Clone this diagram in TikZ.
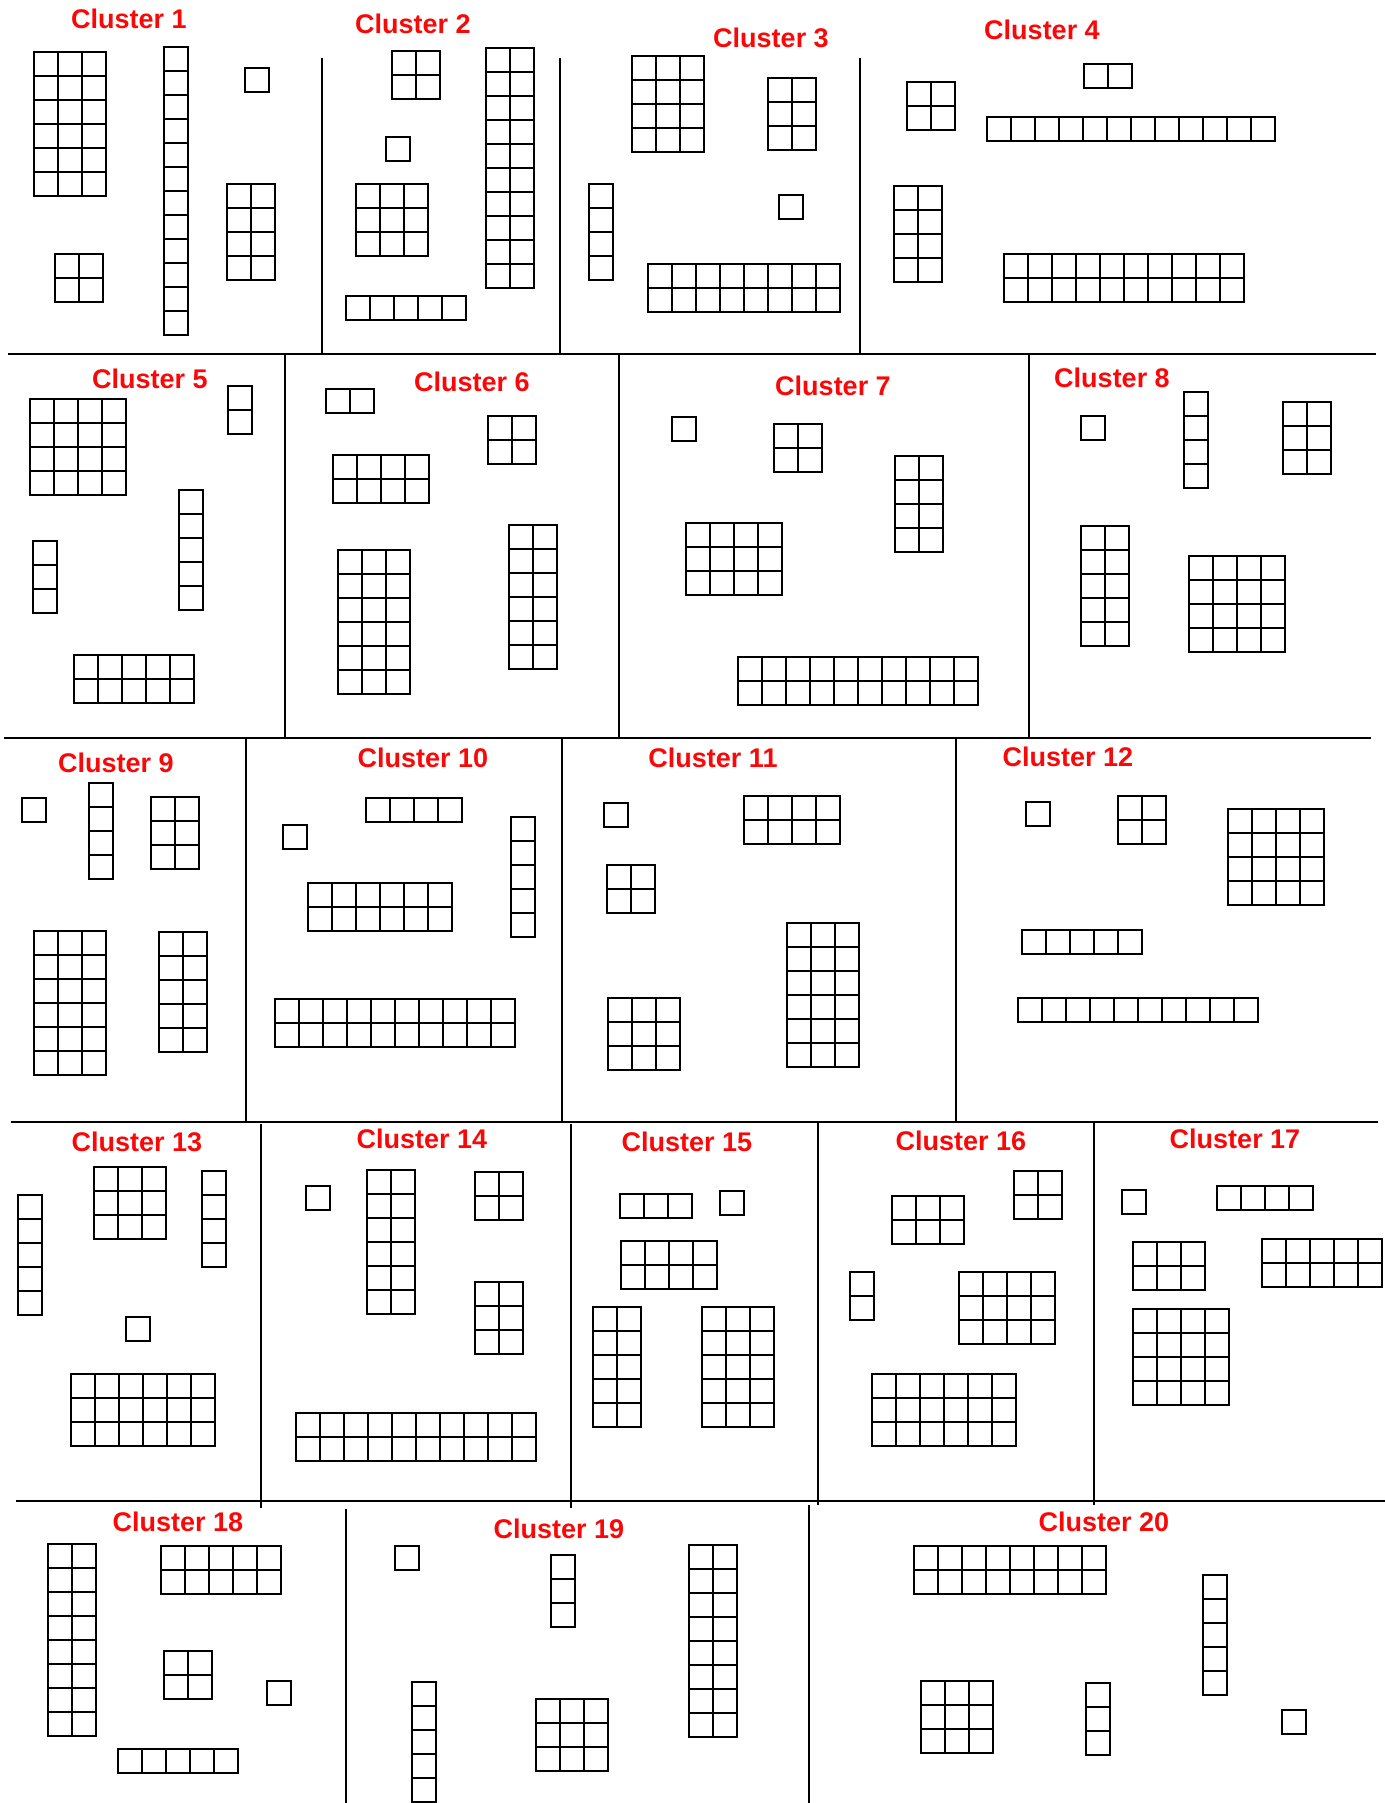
\documentclass[tikz,border=0pt]{standalone}
\usepackage{fontspec}
\setmainfont{Liberation Sans}
\usepackage{tikz}
\usepackage{xcolor}
\definecolor{clred}{RGB}{250,8,8}
\tikzset{
  clabel/.style={font=\bfseries\fontsize{13.5}{16}\selectfont, text=clred, inner sep=0pt},
  clblock/.style={draw=black, line width=1pt, line cap=rect},
  clsep/.style={draw=black, line width=0.8pt},
}
% a block of unit squares: left, top, columns, rows (in px of the sheet)
\newcommand{\unitblock}[4]{%
  \foreach \i in {0,...,#3} \draw[clblock] (#1+\i*24,#2) -- ++(0,#4*24);
  \foreach \j in {0,...,#4} \draw[clblock] (#1,#2+\j*24) -- ++(#3*24,0);
}

\begin{document}
\begin{tikzpicture}[x=0.5pt, y=-0.5pt]
  \useasboundingbox (0,0) rectangle (1385,1803);

  % separating lines
  \draw[clsep] (8,354) -- (1376,354);
  \draw[clsep] (4,738) -- (1371,738);
  \draw[clsep] (11,1122) -- (1378,1122);
  \draw[clsep] (16,1501) -- (1385,1501);
  \foreach \x in {322,560,860} \draw[clsep] (\x,58) -- (\x,354);
  \foreach \x in {285,619,1029} \draw[clsep] (\x,354) -- (\x,738);
  \foreach \x in {246,562,956} \draw[clsep] (\x,738) -- (\x,1122);
  \foreach \x in {261,571} \draw[clsep] (\x,1124) -- (\x,1508);
  \foreach \x in {818,1094} \draw[clsep] (\x,1122) -- (\x,1505);
  \draw[clsep] (346,1509) -- (346,1803);
  \draw[clsep] (809,1505) -- (809,1803);

  % labels
  \node[clabel] (c1) at (129,19) {Cluster 1};
  \node[clabel] (c2) at (413,24) {Cluster 2};
  \node[clabel] (c3) at (771,38) {Cluster 3};
  \node[clabel] (c4) at (1042,30) {Cluster 4};
  \node[clabel] (c5) at (150,379) {Cluster 5};
  \node[clabel] (c6) at (472,382) {Cluster 6};
  \node[clabel] (c7) at (833,386) {Cluster 7};
  \node[clabel] (c8) at (1112,378) {Cluster 8};
  \node[clabel] (c9) at (116,763) {Cluster 9};
  \node[clabel] (c10) at (423,758) {Cluster 10};
  \node[clabel] (c11) at (713,758) {Cluster 11};
  \node[clabel] (c12) at (1068,757) {Cluster 12};
  \node[clabel] (c13) at (137,1142) {Cluster 13};
  \node[clabel] (c14) at (422,1139) {Cluster 14};
  \node[clabel] (c15) at (687,1142) {Cluster 15};
  \node[clabel] (c16) at (961,1141) {Cluster 16};
  \node[clabel] (c17) at (1235,1139) {Cluster 17};
  \node[clabel] (c18) at (178,1522) {Cluster 18};
  \node[clabel] (c19) at (559,1529) {Cluster 19};
  \node[clabel] (c20) at (1104,1522) {Cluster 20};

  % cluster 1
  \unitblock{34}{52}{3}{6}
  \unitblock{164}{47}{1}{12}
  \unitblock{245}{68}{1}{1}
  \unitblock{227}{184}{2}{4}
  \unitblock{55}{254}{2}{2}
  % cluster 2
  \unitblock{392}{51}{2}{2}
  \unitblock{386}{137}{1}{1}
  \unitblock{356}{184}{3}{3}
  \unitblock{486}{48}{2}{10}
  \unitblock{346}{296}{5}{1}
  % cluster 3
  \unitblock{632}{56}{3}{4}
  \unitblock{768}{78}{2}{3}
  \unitblock{779}{195}{1}{1}
  \unitblock{589}{184}{1}{4}
  \unitblock{648}{264}{8}{2}
  % cluster 4
  \unitblock{1084}{64}{2}{1}
  \unitblock{907}{82}{2}{2}
  \unitblock{987}{117}{12}{1}
  \unitblock{894}{186}{2}{4}
  \unitblock{1004}{254}{10}{2}
  % cluster 5
  \unitblock{30}{399}{4}{4}
  \unitblock{228}{386}{1}{2}
  \unitblock{179}{490}{1}{5}
  \unitblock{33}{541}{1}{3}
  \unitblock{74}{655}{5}{2}
  % cluster 6
  \unitblock{326}{389}{2}{1}
  \unitblock{488}{416}{2}{2}
  \unitblock{333}{455}{4}{2}
  \unitblock{338}{550}{3}{6}
  \unitblock{509}{525}{2}{6}
  % cluster 7
  \unitblock{672}{417}{1}{1}
  \unitblock{774}{424}{2}{2}
  \unitblock{895}{456}{2}{4}
  \unitblock{686}{523}{4}{3}
  \unitblock{738}{657}{10}{2}
  % cluster 8
  \unitblock{1081}{416}{1}{1}
  \unitblock{1184}{392}{1}{4}
  \unitblock{1283}{402}{2}{3}
  \unitblock{1081}{526}{2}{5}
  \unitblock{1189}{556}{4}{4}
  % cluster 9
  \unitblock{22}{798}{1}{1}
  \unitblock{89}{783}{1}{4}
  \unitblock{151}{797}{2}{3}
  \unitblock{34}{931}{3}{6}
  \unitblock{159}{932}{2}{5}
  % cluster 10
  \unitblock{366}{798}{4}{1}
  \unitblock{283}{825}{1}{1}
  \unitblock{511}{817}{1}{5}
  \unitblock{308}{883}{6}{2}
  \unitblock{275}{999}{10}{2}
  % cluster 11
  \unitblock{604}{803}{1}{1}
  \unitblock{607}{865}{2}{2}
  \unitblock{608}{998}{3}{3}
  \unitblock{744}{796}{4}{2}
  \unitblock{787}{923}{3}{6}
  % cluster 12
  \unitblock{1026}{802}{1}{1}
  \unitblock{1118}{796}{2}{2}
  \unitblock{1228}{809}{4}{4}
  \unitblock{1022}{930}{5}{1}
  \unitblock{1018}{998}{10}{1}
  % cluster 13
  \unitblock{18}{1195}{1}{5}
  \unitblock{94}{1167}{3}{3}
  \unitblock{202}{1171}{1}{4}
  \unitblock{126}{1317}{1}{1}
  \unitblock{71}{1374}{6}{3}
  % cluster 14
  \unitblock{306}{1186}{1}{1}
  \unitblock{367}{1170}{2}{6}
  \unitblock{475}{1172}{2}{2}
  \unitblock{475}{1282}{2}{3}
  \unitblock{296}{1413}{10}{2}
  % cluster 15
  \unitblock{620}{1194}{3}{1}
  \unitblock{720}{1191}{1}{1}
  \unitblock{621}{1241}{4}{2}
  \unitblock{593}{1307}{2}{5}
  \unitblock{702}{1307}{3}{5}
  % cluster 16
  \unitblock{892}{1196}{3}{2}
  \unitblock{1014}{1171}{2}{2}
  \unitblock{850}{1272}{1}{2}
  \unitblock{959}{1272}{4}{3}
  \unitblock{872}{1374}{6}{3}
  % cluster 17
  \unitblock{1122}{1190}{1}{1}
  \unitblock{1217}{1186}{4}{1}
  \unitblock{1133}{1242}{3}{2}
  \unitblock{1262}{1239}{5}{2}
  \unitblock{1133}{1309}{4}{4}
  % cluster 18
  \unitblock{48}{1544}{2}{8}
  \unitblock{161}{1546}{5}{2}
  \unitblock{164}{1651}{2}{2}
  \unitblock{267}{1681}{1}{1}
  \unitblock{118}{1749}{5}{1}
  % cluster 19
  \unitblock{395}{1546}{1}{1}
  \unitblock{551}{1555}{1}{3}
  \unitblock{412}{1682}{1}{5}
  \unitblock{536}{1699}{3}{3}
  \unitblock{689}{1545}{2}{8}
  % cluster 20
  \unitblock{914}{1546}{8}{2}
  \unitblock{1203}{1575}{1}{5}
  \unitblock{921}{1681}{3}{3}
  \unitblock{1086}{1683}{1}{3}
  \unitblock{1282}{1710}{1}{1}
\end{tikzpicture}
\end{document}
